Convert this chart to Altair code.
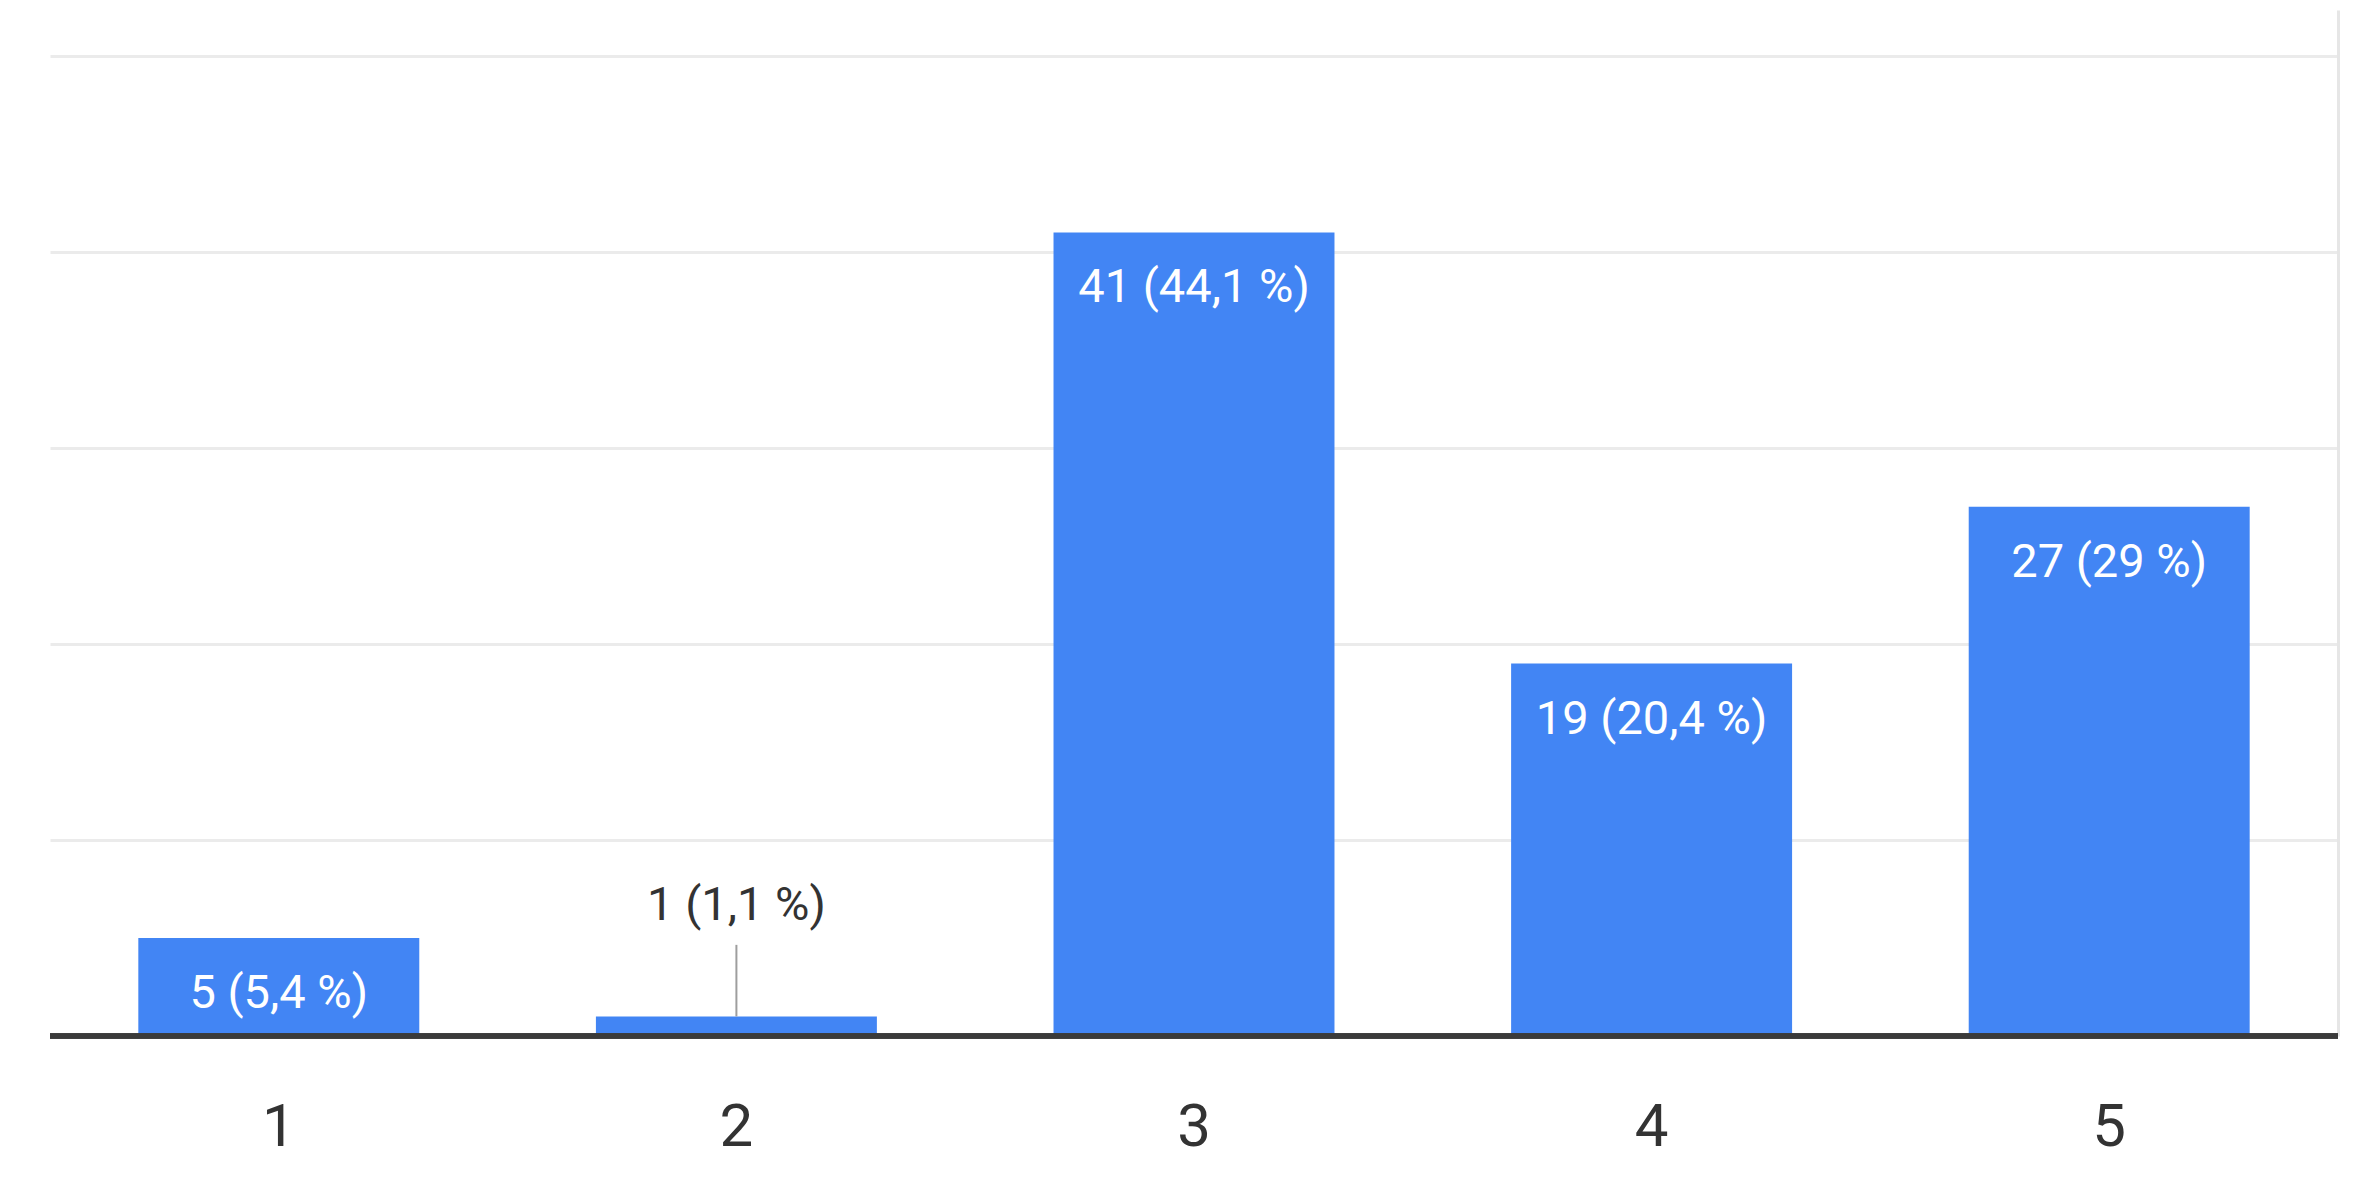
import altair as alt
import pandas as pd

categories = ["1", "2", "3", "4", "5"]
counts = [5, 1, 41, 19, 27]
percents = ["5,4", "1,1", "44,1", "20,4", "29"]
grid_values = [10, 20, 30, 40, 50]

labels = [f"{c} ({p} %)" for c, p in zip(counts, percents)]
df = pd.DataFrame({"cat": categories, "count": counts, "label": labels})

FONT = "Roboto"
BLUE = "#4285f4"

x = alt.X("cat:N", sort=categories, title=None,
          scale=alt.Scale(paddingInner=0.386, paddingOuter=0.193),
          axis=alt.Axis(labelAngle=0, domain=False, ticks=False, tickSize=0,
                        labelFont=FONT, labelFontSize=60, labelColor="#333333",
                        labelPadding=62, labelBaseline="top"))
yscale = alt.Scale(domain=[0, 52.35], nice=False, zero=True)

base = alt.Chart(df)

bars = base.mark_bar(color=BLUE).encode(
    x=x,
    y=alt.Y("count:Q", scale=yscale, title=None,
            axis=alt.Axis(orient="right", values=grid_values, labels=False, ticks=False,
                          domain=True, domainColor="#e6e6e6", domainWidth=3,
                          grid=True, gridColor="#ebebeb", gridWidth=3)),
)

baseline = base.mark_rule(color="#3a3a3a", strokeWidth=5).encode(
    y=alt.datum(0)
)

inside = base.transform_filter("datum.count >= 3").mark_text(
    color="white", font=FONT, fontSize=47, baseline="middle", dy=56
).encode(x=x, y=alt.Y("count:Q", scale=yscale), text="label:N")

leader = base.transform_filter("datum.count < 3").transform_calculate(
    top="datum.count + 3.65"
).mark_rule(color="#9e9e9e", strokeWidth=2).encode(
    x=x, y=alt.Y("count:Q", scale=yscale), y2="top:Q"
)

outside = base.transform_filter("datum.count < 3").mark_text(
    color="#333333", font=FONT, fontSize=47, baseline="middle", dy=-110
).encode(x=x, y=alt.Y("count:Q", scale=yscale), text="label:N")

chart = alt.layer(bars, baseline, leader, inside, outside).properties(
    width=2288, height=1026,
    padding={"left": 39, "top": 2, "right": 0, "bottom": 20},
).configure(background="white").configure_view(stroke=None)

chart.save("out.html", embed_options={"renderer": "svg", "actions": False})
